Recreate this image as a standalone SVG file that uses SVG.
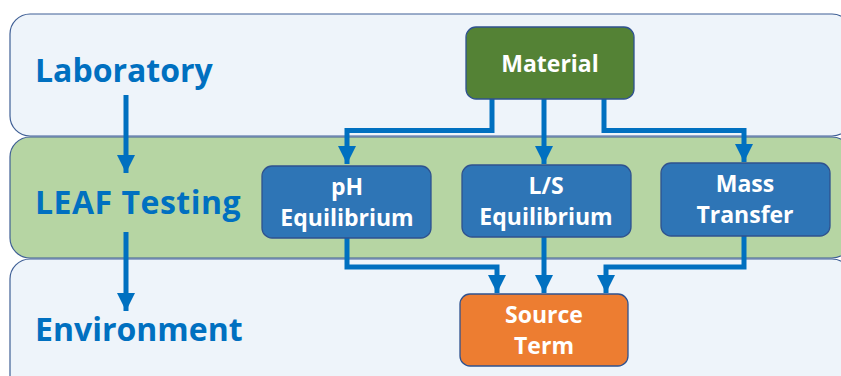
<svg xmlns="http://www.w3.org/2000/svg" width="841" height="376" viewBox="0 0 841 376">
<style>
.band{stroke:#3f5f95;stroke-width:1.2}
.lab{font-family:"Open Sans",Lato,"Liberation Sans",sans-serif;font-weight:bold;font-size:32px;fill:#0070c0}
.box{stroke:#2f528f;stroke-width:1.3}
.bt{font-family:"Open Sans",Lato,"Liberation Sans",sans-serif;font-weight:bold;font-size:23px;fill:#fff;text-anchor:middle}
.c{fill:none;stroke:#0070c0;stroke-width:5}
</style>
<defs>
<marker id="ah" viewBox="0 0 10 10" refX="10" refY="5" markerWidth="3.6" markerHeight="3.6" markerUnits="strokeWidth" orient="auto">
<path d="M0,0L10,5L0,10z" fill="#0070c0"/>
</marker>
</defs>
<g id="bands">
<rect class="band" x="10" y="14" width="842" height="122" rx="20" fill="#eef4fa"/>
<rect class="band" x="10" y="259" width="842" height="140" rx="20" fill="#eef4fa"/>
<rect class="band" x="10" y="137" width="842" height="121" rx="20" fill="#b6d5a3"/>
</g>
<g id="labels">
<text class="lab" x="35" y="82">Laboratory</text>
<text class="lab" x="35" y="214" letter-spacing="0.5">LEAF Testing</text>
<text class="lab" x="35" y="341">Environment</text>
</g>
<g id="connectors">
<path class="c" d="M126,95V173" marker-end="url(#ah)"/>
<path class="c" d="M126,232V311" marker-end="url(#ah)"/>
<path class="c" d="M492,99V130.5H347V164" marker-end="url(#ah)"/>
<path class="c" d="M544,99V164" marker-end="url(#ah)"/>
<path class="c" d="M604,99V130.5H744V162" marker-end="url(#ah)"/>
<path class="c" d="M347,238V267H497V293" marker-end="url(#ah)"/>
<path class="c" d="M544,237V293" marker-end="url(#ah)"/>
<path class="c" d="M744,236V267H606V293" marker-end="url(#ah)"/>
</g>
<g id="material">
<rect class="box" x="466" y="27" width="168" height="72" rx="10" fill="#548235"/>
<text class="bt" x="550" y="72">Material</text>
</g>
<g id="ph">
<rect class="box" x="262" y="166" width="169" height="72" rx="10" fill="#2e75b6"/>
<text class="bt" x="347" y="195">pH</text>
<text class="bt" x="347" y="226">Equilibrium</text>
</g>
<g id="ls">
<rect class="box" x="462" y="165" width="169" height="72" rx="10" fill="#2e75b6"/>
<text class="bt" x="546" y="194">L/S</text>
<text class="bt" x="546" y="225">Equilibrium</text>
</g>
<g id="mass">
<rect class="box" x="661" y="163" width="169" height="73" rx="10" fill="#2e75b6"/>
<text class="bt" x="745" y="192">Mass</text>
<text class="bt" x="745" y="223">Transfer</text>
</g>
<g id="source">
<rect class="box" x="460" y="294" width="168" height="72" rx="10" fill="#ed7d31"/>
<text class="bt" x="544" y="323">Source</text>
<text class="bt" x="544" y="354">Term</text>
</g>
</svg>
